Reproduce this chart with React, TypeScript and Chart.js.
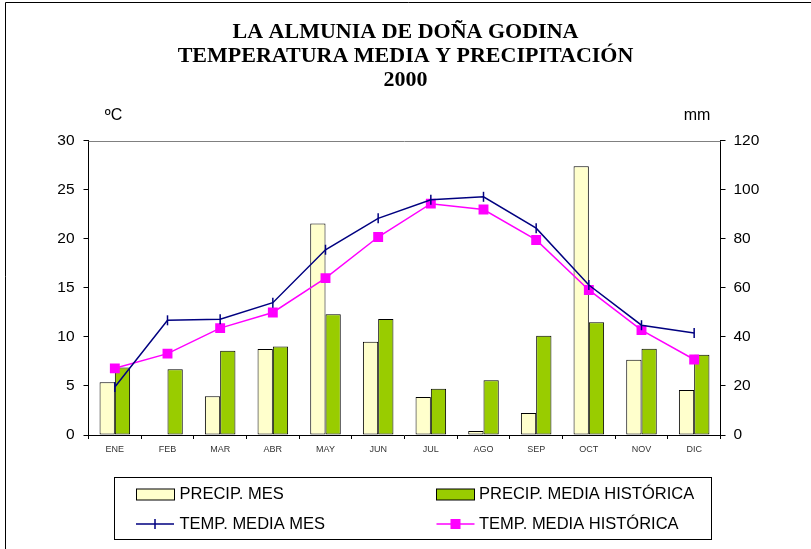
import React, { useEffect, useRef } from "react";
import { Chart, registerables } from "chart.js";

Chart.register(...registerables);

const months = ["ENE", "FEB", "MAR", "ABR", "MAY", "JUN", "JUL", "AGO", "SEP", "OCT", "NOV", "DIC"];
const precipMes = [21.5, 0, 15.8, 35.1, 86.3, 38.1, 15.5, 1.6, 9.0, 109.7, 30.7, 18.4];
const precipHist = [27.5, 26.8, 34.4, 36.1, 49.3, 47.3, 18.9, 22.3, 40.5, 46.0, 35.2, 32.7];
const tempMes = [4.9, 11.7, 11.8, 13.5, 18.9, 22.1, 24.0, 24.3, 21.1, 15.3, 11.2, 10.4];
const tempHist = [6.8, 8.3, 10.9, 12.5, 16.0, 20.2, 23.6, 23.0, 19.9, 14.8, 10.7, 7.7];
const titleLines = ["LA ALMUNIA DE DOÑA GODINA", "TEMPERATURA MEDIA Y PRECIPITACIÓN", "2000"];
const legendLabels = ["PRECIP. MES", "PRECIP. MEDIA HISTÓRICA", "TEMP. MEDIA MES", "TEMP. MEDIA HISTÓRICA"];

const SANS = "'Liberation Sans', Arial, sans-serif";
const YELLOW = "#FFFFCC";
const GREEN = "#99CC00";
const NAVY = "#000080";
const MAGENTA = "#FF00FF";

const extrasPlugin = {
  id: "extras",
  afterDraw(chart: any) {
    const ctx = chart.ctx as CanvasRenderingContext2D;
    const a = chart.chartArea;
    ctx.save();
    // outer border (left and top)
    ctx.strokeStyle = "#000";
    ctx.lineWidth = 1;
    ctx.beginPath();
    ctx.moveTo(5.5, 560);
    ctx.lineTo(5.5, 2.5);
    ctx.lineTo(820, 2.5);
    ctx.stroke();
    // top plot border
    ctx.strokeStyle = "#808080";
    ctx.beginPath();
    ctx.moveTo(a.left, Math.round(a.top) + 0.5);
    ctx.lineTo(a.right, Math.round(a.top) + 0.5);
    ctx.stroke();
    // units
    ctx.fillStyle = "#000";
    ctx.font = `16px ${SANS}`;
    ctx.textBaseline = "middle";
    ctx.textAlign = "center";
    ctx.fillText("ºC", 113.5, 116);
    ctx.fillText("mm", 697, 116);
    // legend box
    ctx.strokeStyle = "#000";
    ctx.lineWidth = 1;
    ctx.strokeRect(114.5, 477.5, 597, 62);
    ctx.textAlign = "left";
    const r1 = 494.5;
    const r2 = 524;
    const c1 = 136;
    const c2 = 436.5;
    // swatches
    ctx.fillStyle = YELLOW;
    ctx.fillRect(c1 + 0.5, r1 - 5.5, 38, 11);
    ctx.strokeRect(c1 + 0.5, r1 - 5.5, 38, 11);
    ctx.fillStyle = GREEN;
    ctx.fillRect(c2, r1 - 5.5, 38, 11);
    ctx.strokeRect(c2, r1 - 5.5, 38, 11);
    // line items
    ctx.lineWidth = 1.5;
    ctx.strokeStyle = NAVY;
    ctx.beginPath();
    ctx.moveTo(c1, r2);
    ctx.lineTo(c1 + 38, r2);
    ctx.moveTo(c1 + 19, r2 - 5);
    ctx.lineTo(c1 + 19, r2 + 5);
    ctx.stroke();
    ctx.strokeStyle = MAGENTA;
    ctx.beginPath();
    ctx.moveTo(c2, r2);
    ctx.lineTo(c2 + 38, r2);
    ctx.stroke();
    ctx.fillStyle = MAGENTA;
    ctx.fillRect(c2 + 19 - 5, r2 - 5, 10, 10);
    // texts
    ctx.fillStyle = "#000";
    ctx.font = `16.5px ${SANS}`;
    ctx.fillText(legendLabels[0], 179.5, r1);
    ctx.fillText(legendLabels[1], 479, r1);
    ctx.fillText(legendLabels[2], 179.5, r2);
    ctx.fillText(legendLabels[3], 479, r2);
    ctx.restore();
  },
};

export default function App() {
  const ref = useRef<HTMLCanvasElement | null>(null);
  useEffect(() => {
    if (!ref.current) return;
    const chart = new Chart(ref.current, {
      type: "bar",
      data: {
        labels: months,
        datasets: [
          {
            type: "line",
            label: legendLabels[2],
            data: tempMes,
            yAxisID: "yT",
            borderColor: NAVY,
            backgroundColor: NAVY,
            borderWidth: 1.5,
            pointStyle: "line",
            pointRotation: 90,
            pointRadius: 5,
            pointBorderWidth: 1.5,
            pointBorderColor: NAVY,
            tension: 0,
            order: 0,
          },
          {
            type: "line",
            label: legendLabels[3],
            data: tempHist,
            yAxisID: "yT",
            borderColor: MAGENTA,
            backgroundColor: MAGENTA,
            borderWidth: 1.5,
            pointStyle: "rect",
            pointRadius: 7,
            pointBorderWidth: 0,
            pointBackgroundColor: MAGENTA,
            tension: 0,
            order: 1,
          },
          {
            type: "bar",
            label: legendLabels[0],
            data: precipMes,
            yAxisID: "yP",
            backgroundColor: YELLOW,
            borderColor: "#000",
            borderWidth: 1,
            borderSkipped: false,
            categoryPercentage: 0.58,
            barPercentage: 1,
            order: 2,
          },
          {
            type: "bar",
            label: legendLabels[1],
            data: precipHist,
            yAxisID: "yP",
            backgroundColor: GREEN,
            borderColor: "#000",
            borderWidth: 1,
            borderSkipped: false,
            categoryPercentage: 0.58,
            barPercentage: 1,
            order: 3,
          },
        ],
      } as any,
      options: {
        animation: false,
        responsive: false,
        maintainAspectRatio: false,
        layout: { padding: 0 },
        plugins: {
          legend: { display: false },
          tooltip: { enabled: false },
          title: {
            display: true,
            text: titleLines,
            color: "#000",
            font: { family: "'Liberation Serif', 'Times New Roman', serif", size: 22, weight: "bold", lineHeight: 1.105 },
            padding: { top: 20, bottom: 48 },
          },
        },
        scales: {
          x: {
            type: "category",
            offset: true,
            grid: { display: true, drawOnChartArea: false, drawTicks: true, tickLength: 4, color: "#000", offset: true },
            border: { display: true, color: "#000", width: 1 },
            ticks: { font: { family: SANS, size: 9 }, color: "#333", padding: 5, maxRotation: 0, autoSkip: false },
            afterFit: (s: any) => {
              s.height = 114;
            },
          },
          yT: {
            type: "linear",
            position: "left",
            min: 0,
            max: 30,
            grid: { display: true, drawOnChartArea: false, drawTicks: true, tickLength: 5, color: "#000" },
            border: { display: true, color: "#000", width: 1 },
            ticks: { stepSize: 5, font: { family: SANS, size: 15.5 }, color: "#000", padding: 9 },
            afterFit: (s: any) => {
              s.width = 88.5;
            },
          },
          yP: {
            type: "linear",
            position: "right",
            min: 0,
            max: 120,
            grid: { display: true, drawOnChartArea: false, drawTicks: true, tickLength: 5, color: "#000" },
            border: { display: true, color: "#000", width: 1 },
            ticks: { stepSize: 20, font: { family: SANS, size: 15.5 }, color: "#000", padding: 8 },
            afterFit: (s: any) => {
              s.width = 90.5;
            },
          },
        },
      } as any,
      plugins: [extrasPlugin],
    });
    return () => chart.destroy();
  }, []);
  return (
    <div style={{ position: "absolute", left: 0, top: 0, width: 811, height: 549, background: "#fff" }}>
      <canvas ref={ref} width={811} height={549} style={{ width: 811, height: 549, display: "block" }} />
    </div>
  );
}
